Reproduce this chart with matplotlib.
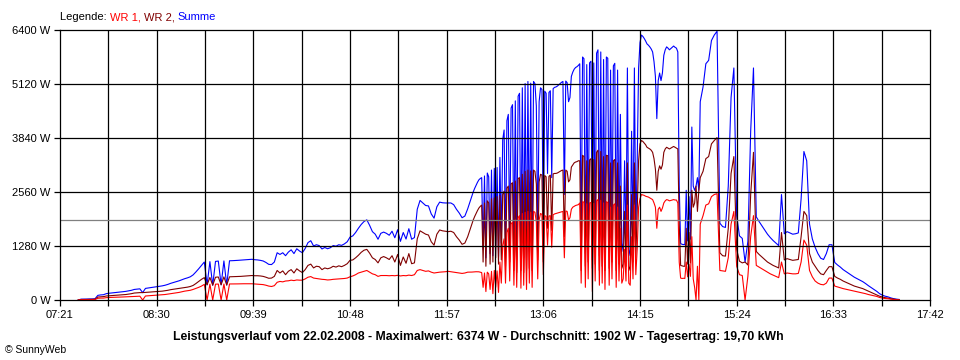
import matplotlib
matplotlib.use("Agg")
import matplotlib.pyplot as plt
import numpy as np

plt.rcParams['font.family'] = ['Liberation Sans', 'DejaVu Sans']

# ---- data: power per inverter (W) ----
# morning: 2-minute samples from 07:34
morning_start = 7 * 60 + 34
morning_step = 2
wr1_morning = [
    0, 8, 8, 8, 10, 10, 12, 40, 45, 45,
    55, 60, 62, 65, 68, 70, 72, 75, 78, 80,
    85, 88, 90, 0, 95, 100, 105, 110, 115, 120,
    125, 130, 140, 150, 160, 170, 180, 195, 210, 220,
    230, 250, 275, 300, 330, 370, 0, 375, 0, 375,
    378, 0, 378, 0, 380, 380, 382, 382, 384, 385,
    385, 385, 385, 380, 375, 370, 365, 350, 330, 320,
    340, 420, 440, 430, 450, 455, 470, 460, 475, 470,
    470, 500, 540, 555, 520, 510, 500, 490, 485, 475,
    480, 490, 495, 500, 505, 510, 520, 550, 570, 600,
    640, 660, 680, 700, 660, 620, 600, 560, 580, 580,
    580, 575, 580, 575, 585, 570, 580, 575, 590, 580,
    600, 700, 720, 700, 680, 690, 660, 640, 650, 660,
    665, 670, 680, 670, 660, 650, 640, 630, 640, 660,
]
wr2_morning = [
    0, 12, 12, 14, 15, 15, 18, 70, 75, 80,
    95, 100, 105, 110, 115, 120, 125, 130, 140, 150,
    165, 170, 175, 175, 180, 185, 190, 195, 200, 205,
    210, 220, 230, 245, 255, 265, 275, 285, 295, 305,
    320, 345, 390, 440, 490, 530, 360, 535, 350, 540,
    545, 360, 548, 355, 550, 552, 555, 558, 560, 565,
    570, 575, 580, 575, 575, 570, 560, 540, 515, 520,
    560, 700, 640, 690, 600, 680, 720, 640, 740, 690,
    650, 720, 820, 850, 760, 800, 790, 720, 760, 740,
    760, 800, 780, 810, 790, 820, 860, 940, 950, 1000,
    1060, 1130, 1180, 1200, 1110, 1000, 960, 880, 1000, 1030,
    1000, 960, 1050, 900, 1080, 820, 1020, 870, 1100, 860,
    880, 1450, 1640, 1600, 1560, 1540, 1380, 1300, 1560, 1660,
    1640, 1630, 1620, 1630, 1600, 1500, 1420, 1320, 1350, 1500,
]

# midday: 1-minute samples from 12:14
midday_start = 12 * 60 + 14
midday_step = 1
wr1_midday = [
    660, 662, 665, 667, 670, 670, 668, 660, 650,
    300, 640, 200, 660, 620, 250, 680, 150, 700, 300, 690, 180, 900, 400,
    1300, 1450, 400, 1600, 1700, 450, 1800,
    1850, 350, 1900, 300, 1950, 2000, 280, 2050, 350, 2080, 250, 2100, 400, 2080, 300,
    2100, 2080, 1850, 500, 1900, 2050, 2030, 600,
    2000, 1980, 1300, 1990, 2000, 1250, 2020, 2040,
    2050, 2060, 2070, 2080, 2090, 2100, 1000, 2110, 2100, 1900, 1950,
    2150, 2200, 2220, 2240, 2250, 2260,
    2300, 400, 2330, 2320, 300, 2280, 500, 2300, 2310, 200, 2290, 450, 2350, 2380,
    350, 2360, 400, 2300, 250, 2330, 2310, 350, 2200, 500, 2250, 2280, 300, 2200, 450,
    1700, 400, 500, 1200, 450, 2250, 400, 350, 1500, 500, 2250, 600,
    1200, 2200, 2400, 2500, 2490,
    2480, 2460, 2450, 2440, 2420, 2400, 2380,
    2300, 2200, 1700, 2150, 2200, 2100, 2180,
    2300, 2350, 2380, 2370, 2350, 2360, 2370, 2380, 2370,
    2370, 2300, 900, 520, 510, 515, 510, 900, 550, 850, 560, 1500, 500, 300, 0, 800, 0, 1800,
]
wr2_midday = [
    1700, 1800, 1900, 1980, 2050, 2120, 2180, 2220, 2250,
    900, 2300, 800, 2350, 2300, 850, 2400, 900, 2420, 1000, 2450, 850, 2480, 950,
    2500, 2580, 800, 2650, 2700, 900, 2750,
    2780, 700, 2820, 650, 2880, 2900, 700, 2980, 650, 3050, 700, 3080, 750, 3060, 700,
    3080, 3050, 2750, 950, 2800, 2980, 2960, 900,
    2950, 2920, 1700, 2930, 2960, 1650, 2990, 3000,
    3000, 3010, 3030, 3050, 3070, 3080, 1500, 3080, 3050, 2800, 2850,
    3150, 3200, 3250, 3270, 3280, 3300,
    3300, 700, 3430, 3400, 800, 3300, 900, 3320, 3350, 750, 3330, 850, 3500, 3550,
    700, 3520, 800, 3400, 700, 3430, 3420, 750, 3250, 900, 3300, 3330, 700, 3250, 850,
    2700, 750, 850, 2100, 800, 3250, 800, 700, 2500, 900, 3250, 1000,
    2100, 3300, 3700, 3780, 3760,
    3720, 3680, 3620, 3600, 3580, 3550, 3500,
    3350, 3100, 2600, 3050, 3180, 3100, 3200,
    3500, 3580, 3620, 3600, 3580, 3600, 3620, 3640, 3620,
    3600, 3580, 1800, 820, 810, 800, 800, 1700, 850, 1600, 880, 2600, 2200, 2300, 2700, 2100, 2600, 2900,
]

# afternoon: 2-minute samples from 15:00
afternoon_start = 15 * 60
afternoon_step = 2
wr1_afternoon = [
    2000, 2250, 2280, 2450, 2500, 2520, 700,
    690, 680, 1000, 1800, 2100, 800, 600, 580, 0, 560,
    1500, 2000, 820, 780, 740, 700, 660, 620, 590, 560,
    530, 900, 620, 640, 630, 620, 620, 630, 900, 1420,
    1300, 700, 550, 450, 400, 370, 360, 400, 520, 520,
    330, 310, 290, 270, 255, 240, 225, 210, 195, 180,
    165, 150, 130, 115, 100, 85, 60, 45, 35, 30, 20, 12, 8, 5,
]
wr2_afternoon = [
    3050, 3350, 3400, 3700, 3780, 3850, 1120,
    1050, 1040, 1700, 3000, 3400, 1200, 920, 880, 900, 830,
    2500, 3500, 1150, 1080, 1020, 960, 900, 860, 820, 790,
    760, 1600, 950, 980, 960, 940, 950, 960, 1500, 2100,
    2000, 1100, 900, 800, 700, 620, 600, 700, 790, 790,
    560, 520, 490, 450, 420, 390, 360, 330, 310, 290,
    270, 240, 210, 180, 150, 120, 90, 70, 55, 45, 30, 20, 12, 8,
]

average_w = 1902
x_start_min = 7 * 60 + 21
x_end_min = 17 * 60 + 42
y_ticks = [0, 1280, 2560, 3840, 5120, 6400]
title = ("Leistungsverlauf vom 22.02.2008 - Maximalwert: 6374 W - "
         "Durchschnitt: 1902 W - Tagesertrag: 19,70 kWh")

# ---- assemble ----
t = np.concatenate([
    morning_start + morning_step * np.arange(len(wr1_morning)),
    midday_start + midday_step * np.arange(len(wr1_midday)),
    afternoon_start + afternoon_step * np.arange(len(wr1_afternoon)),
])
w1 = np.array(wr1_morning + wr1_midday + wr1_afternoon, dtype=float)
w2 = np.array(wr2_morning + wr2_midday + wr2_afternoon, dtype=float)
summe = w1 + w2

fig = plt.figure(figsize=(9.6, 3.6), dpi=100)
fig.patch.set_facecolor('white')
ax = fig.add_axes([60 / 960, 60 / 360, 870 / 960, 270 / 360])

ax.plot(t, summe, color='#0000FF', lw=0.8, zorder=2)
ax.plot(t, w2, color='#800000', lw=0.8, zorder=3)
ax.plot(t, w1, color='#FF0000', lw=0.8, zorder=4)

ax.set_xlim(x_start_min, x_end_min)
ax.set_ylim(0, 6400)

xt = np.linspace(x_start_min, x_end_min, 19)
ax.set_xticks(xt)
labels = []
for k, v in enumerate(xt):
    if k % 2 == 0:
        m = int(round(v))
        labels.append(f"{m // 60:02d}:{m % 60:02d}")
    else:
        labels.append("")
ax.set_xticklabels(labels)
ax.set_yticks(y_ticks)
ax.set_yticklabels([f"{v} W" for v in y_ticks])

for v in xt[1:-1]:
    ax.axvline(v, color='black', lw=0.9, zorder=6)
for v in y_ticks[1:-1]:
    ax.axhline(v, color='black', lw=0.9, zorder=6)
ax.axhline(average_w, color='#808080', lw=0.9, zorder=7)

for s in ax.spines.values():
    s.set_color('black')
    s.set_linewidth(0.9)
    s.set_zorder(8)
ax.tick_params(direction='out', length=4, width=0.9, colors='black',
               labelsize=8, pad=3)

# legend line in coloured pieces
renderer = fig.canvas.get_renderer()
x_px = 60
for txt, col in [("Legende: ", "black"), ("WR 1, ", "#FF0000"),
                 ("WR 2, ", "#800000"), ("Summe", "#0000FF")]:
    tt = fig.text(x_px / 960, 1 - 17 / 360, txt, color=col, fontsize=8,
                  va='center', ha='left')
    bb = tt.get_window_extent(renderer=renderer)
    x_px += bb.width

fig.text(478 / 960, 1 - 337 / 360, title, fontsize=8.8, fontweight='bold',
         ha='center', va='center', color='black')
fig.text(5 / 960, 1 - 350 / 360, "\u00a9 SunnyWeb", fontsize=7.5,
         ha='left', va='center', color='black')

fig.savefig("out.png", dpi=100)
